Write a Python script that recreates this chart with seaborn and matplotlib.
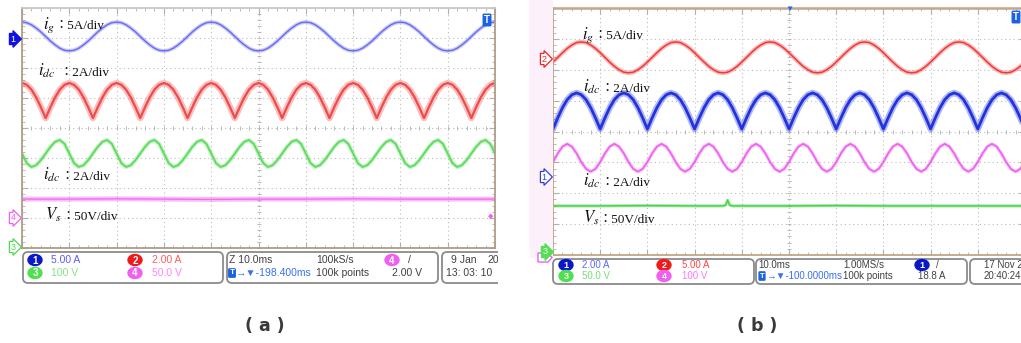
import matplotlib
matplotlib.use("Agg")
import matplotlib.pyplot as plt
import matplotlib.transforms as mtransforms
from matplotlib.patches import FancyBboxPatch, Ellipse, Rectangle, Polygon
import numpy as np
import pandas as pd
import seaborn as sns

# ---------------- data (screen divisions, time in ms) ----------------
TIME_MS = list(range(0, 101))
FLAT_TIME_A = [0, 10, 20, 30, 40, 50, 60, 70, 80, 90, 100]
FLAT_TIME_B = [0, 10, 20, 30, 36, 36.6, 37, 37.4, 38, 40, 50, 60, 70, 80, 90, 100]

# panel (a)
A_IG = [3.53, 3.51, 3.44, 3.33, 3.20, 3.05, 2.90, 2.77, 2.66, 2.59, 2.57, 2.59, 2.66, 2.77, 2.90, 3.05, 3.20, 3.33, 3.44, 3.51,
        3.53, 3.51, 3.44, 3.33, 3.20, 3.05, 2.90, 2.77, 2.66, 2.59, 2.57, 2.59, 2.66, 2.77, 2.90, 3.05, 3.20, 3.33, 3.44, 3.51,
        3.53, 3.51, 3.44, 3.33, 3.20, 3.05, 2.90, 2.77, 2.66, 2.59, 2.57, 2.59, 2.66, 2.77, 2.90, 3.05, 3.20, 3.33, 3.44, 3.51,
        3.53, 3.51, 3.44, 3.33, 3.20, 3.05, 2.90, 2.77, 2.66, 2.59, 2.57, 2.59, 2.66, 2.77, 2.90, 3.05, 3.20, 3.33, 3.44, 3.51,
        3.53, 3.51, 3.44, 3.33, 3.20, 3.05, 2.90, 2.77, 2.66, 2.59, 2.57, 2.59, 2.66, 2.77, 2.90, 3.05, 3.20, 3.33, 3.44, 3.51,
        3.53]
A_IDC = [1.50, 1.44, 1.28, 1.02, 0.69, 0.33, 0.69, 1.02, 1.28, 1.44,
         1.50, 1.44, 1.28, 1.02, 0.69, 0.33, 0.69, 1.02, 1.28, 1.44,
         1.50, 1.44, 1.28, 1.02, 0.69, 0.33, 0.69, 1.02, 1.28, 1.44,
         1.50, 1.44, 1.28, 1.02, 0.69, 0.33, 0.69, 1.02, 1.28, 1.44,
         1.50, 1.44, 1.28, 1.02, 0.69, 0.33, 0.69, 1.02, 1.28, 1.44,
         1.50, 1.44, 1.28, 1.02, 0.69, 0.33, 0.69, 1.02, 1.28, 1.44,
         1.50, 1.44, 1.28, 1.02, 0.69, 0.33, 0.69, 1.02, 1.28, 1.44,
         1.50, 1.44, 1.28, 1.02, 0.69, 0.33, 0.69, 1.02, 1.28, 1.44,
         1.50, 1.44, 1.28, 1.02, 0.69, 0.33, 0.69, 1.02, 1.28, 1.44,
         1.50, 1.44, 1.28, 1.02, 0.69, 0.33, 0.69, 1.02, 1.28, 1.44,
         1.50]
A_IDC2 = [-0.85, -1.17, -1.30, -1.24, -1.07, -0.85, -0.63, -0.46, -0.40, -0.53,
          -0.85, -1.17, -1.30, -1.24, -1.07, -0.85, -0.63, -0.46, -0.40, -0.53,
          -0.85, -1.17, -1.30, -1.24, -1.07, -0.85, -0.63, -0.46, -0.40, -0.53,
          -0.85, -1.17, -1.30, -1.24, -1.07, -0.85, -0.63, -0.46, -0.40, -0.53,
          -0.85, -1.17, -1.30, -1.24, -1.07, -0.85, -0.63, -0.46, -0.40, -0.53,
          -0.85, -1.17, -1.30, -1.24, -1.07, -0.85, -0.63, -0.46, -0.40, -0.53,
          -0.85, -1.17, -1.30, -1.24, -1.07, -0.85, -0.63, -0.46, -0.40, -0.53,
          -0.85, -1.17, -1.30, -1.24, -1.07, -0.85, -0.63, -0.46, -0.40, -0.53,
          -0.85, -1.17, -1.30, -1.24, -1.07, -0.85, -0.63, -0.46, -0.40, -0.53,
          -0.85, -1.17, -1.30, -1.24, -1.07, -0.85, -0.63, -0.46, -0.40, -0.53,
          -0.85]
A_VS = [-2.37, -2.37, -2.36, -2.37, -2.38, -2.37, -2.37, -2.36, -2.37, -2.37, -2.37]

# panel (b)
B_IG = [2.25, 2.40, 2.55, 2.69, 2.80, 2.88, 2.90, 2.88, 2.80, 2.69, 2.55, 2.40, 2.25, 2.11, 2.00, 1.92, 1.90, 1.92, 2.00, 2.11,
        2.25, 2.40, 2.55, 2.69, 2.80, 2.88, 2.90, 2.88, 2.80, 2.69, 2.55, 2.40, 2.25, 2.11, 2.00, 1.92, 1.90, 1.92, 2.00, 2.11,
        2.25, 2.40, 2.55, 2.69, 2.80, 2.88, 2.90, 2.88, 2.80, 2.69, 2.55, 2.40, 2.25, 2.11, 2.00, 1.92, 1.90, 1.92, 2.00, 2.11,
        2.25, 2.40, 2.55, 2.69, 2.80, 2.88, 2.90, 2.88, 2.80, 2.69, 2.55, 2.40, 2.25, 2.11, 2.00, 1.92, 1.90, 1.92, 2.00, 2.11,
        2.25, 2.40, 2.55, 2.69, 2.80, 2.88, 2.90, 2.88, 2.80, 2.69, 2.55, 2.40, 2.25, 2.11, 2.00, 1.92, 1.90, 1.92, 2.00, 2.11,
        2.25]
B_IDC = [0.08, 0.44, 0.77, 1.03, 1.19, 1.25, 1.19, 1.03, 0.77, 0.44,
         0.08, 0.44, 0.77, 1.03, 1.19, 1.25, 1.19, 1.03, 0.77, 0.44,
         0.08, 0.44, 0.77, 1.03, 1.19, 1.25, 1.19, 1.03, 0.77, 0.44,
         0.08, 0.44, 0.77, 1.03, 1.19, 1.25, 1.19, 1.03, 0.77, 0.44,
         0.08, 0.44, 0.77, 1.03, 1.19, 1.25, 1.19, 1.03, 0.77, 0.44,
         0.08, 0.44, 0.77, 1.03, 1.19, 1.25, 1.19, 1.03, 0.77, 0.44,
         0.08, 0.44, 0.77, 1.03, 1.19, 1.25, 1.19, 1.03, 0.77, 0.44,
         0.08, 0.44, 0.77, 1.03, 1.19, 1.25, 1.19, 1.03, 0.77, 0.44,
         0.08, 0.44, 0.77, 1.03, 1.19, 1.25, 1.19, 1.03, 0.77, 0.44,
         0.08, 0.44, 0.77, 1.03, 1.19, 1.25, 1.19, 1.03, 0.77, 0.44,
         0.08]
B_IDC2 = [-0.99, -0.71, -0.49, -0.40, -0.49, -0.71, -0.99, -1.21, -1.30, -1.21,
          -0.99, -0.71, -0.49, -0.40, -0.49, -0.71, -0.99, -1.21, -1.30, -1.21,
          -0.99, -0.71, -0.49, -0.40, -0.49, -0.71, -0.99, -1.21, -1.30, -1.21,
          -0.99, -0.71, -0.49, -0.40, -0.49, -0.71, -0.99, -1.21, -1.30, -1.21,
          -0.99, -0.71, -0.49, -0.40, -0.49, -0.71, -0.99, -1.21, -1.30, -1.21,
          -0.99, -0.71, -0.49, -0.40, -0.49, -0.71, -0.99, -1.21, -1.30, -1.21,
          -0.99, -0.71, -0.49, -0.40, -0.49, -0.71, -0.99, -1.21, -1.30, -1.21,
          -0.99, -0.71, -0.49, -0.40, -0.49, -0.71, -0.99, -1.21, -1.30, -1.21,
          -0.99, -0.71, -0.49, -0.40, -0.49, -0.71, -0.99, -1.21, -1.30, -1.21,
          -0.99, -0.71, -0.49, -0.40, -0.49, -0.71, -0.99, -1.21, -1.30, -1.21,
          -0.99]
B_VS = [-2.41, -2.41, -2.40, -2.41, -2.41, -2.38, -2.22, -2.38, -2.41, -2.41, -2.41, -2.40, -2.41, -2.41, -2.41, -2.41]

LABEL_SYMBOLS = ["$i_g$", "$i_{dc}$", "$i_{dc}$", "$V_s$"]
LABEL_SCALES = ["\uff1a5A/div", "\uff1a2A/div", "\uff1a2A/div", "\uff1a50V/div"]

STATUS_A_CH = [("1", "5.00 A"), ("2", "2.00 A"), ("3", "100 V"), ("4", "50.0 V")]
STATUS_A_MID = ["Z 10.0ms", "100kS/s", "/", "\u2192\u25bc-198.400ms", "100k points", "2.00 V"]
STATUS_A_DATE = ["9 Jan", "20", "13: 03: 10"]
STATUS_B_CH = [("1", "2.00 A"), ("2", "5.00 A"), ("3", "50.0 V"), ("4", "100 V")]
STATUS_B_MID = ["10.0ms", "1.00MS/s", "/", "\u2192\u25bc-100.0000ms", "100k points", "18.8 A"]
STATUS_B_DATE = ["17 Nov 2", "20:40:24"]
PANEL_TITLES = ["( a )", "( b )"]

# ---------------- style ----------------
sns.set_style("white")
plt.rcParams["font.family"] = ["Liberation Sans", "DejaVu Sans"]
plt.rcParams["mathtext.fontset"] = "stix"

W, H = 1021, 343
fig = plt.figure(figsize=(W / 100, H / 100), dpi=100)
fig.patch.set_facecolor("white")
PX = mtransforms.Affine2D().scale(1.0 / W, -1.0 / H).translate(0, 1) + fig.transFigure


def add_axes_px(l, t, r, b):
    return fig.add_axes([l / W, 1 - b / H, (r - l) / W, (b - t) / H])


def style_scope(ax, spine_color, top_color):
    ax.set_xlim(0, 100)
    ax.set_ylim(-4, 4)
    ax.set_xticks(np.arange(0, 101, 10))
    ax.set_yticks(np.arange(-4, 5, 1))
    ax.set_xticks(np.arange(0, 101, 2), minor=True)
    ax.set_yticks(np.arange(-4, 4.01, 0.2), minor=True)
    ax.tick_params(which="both", direction="in", top=True, right=True, bottom=True, left=True,
                   labelbottom=False, labelleft=False, color="#b0b0b0")
    ax.tick_params(which="major", length=4, width=0.8)
    ax.tick_params(which="minor", length=2.2, width=0.6)
    ax.set_axisbelow(True)
    ax.grid(True, which="major", linestyle=(0, (1, 2.8)), color="#bcbcbc", linewidth=0.8)
    ax.set_xlabel("")
    ax.set_ylabel("")
    ax.set_facecolor("white")
    for s in ax.spines.values():
        s.set_color(spine_color)
        s.set_linewidth(1.3)
    ax.spines["top"].set_color(top_color)
    ax.plot(np.arange(0, 101, 2), np.zeros(51), ls="none", marker="|", ms=3.2, mew=0.6,
            color="#b0b0b0", zorder=1)
    ax.plot(np.full(41, 50), np.arange(-4, 4.01, 0.2), ls="none", marker="_", ms=3.2, mew=0.6,
            color="#b0b0b0", zorder=1)


def draw_trace(ax, times, values, color, lw, band_lw, band_alpha):
    df = pd.DataFrame({"t": times, "v": values})
    sns.lineplot(data=df, x="t", y="v", ax=ax, color=color, linewidth=band_lw, alpha=band_alpha,
                 estimator=None, sort=False, legend=False)
    sns.lineplot(data=df, x="t", y="v", ax=ax, color=color, linewidth=lw,
                 estimator=None, sort=False, legend=False)
    ax.set_xlabel("")
    ax.set_ylabel("")


def label(x_sym, x_rest, y_base, sym, rest):
    fig.text(x_sym, y_base, sym, transform=PX, fontsize=12, ha="left", va="baseline", color="#111111")
    fig.text(x_rest, y_base, rest, transform=PX, fontsize=9.5, ha="left", va="baseline",
             family=["Liberation Serif", "Noto Sans CJK TC", "DejaVu Serif"], color="#111111")


def marker(x, y, txt, fc, ec, tc):
    fig.text(x, y, txt, transform=PX, fontsize=6.5, ha="center", va="center", color=tc,
             bbox=dict(boxstyle="rarrow,pad=0.12", fc=fc, ec=ec, lw=0.9))


def rbox(x0, y0, x1, y1):
    p = FancyBboxPatch((x0, y0), x1 - x0, y1 - y0, boxstyle="round,pad=0,rounding_size=5",
                       transform=PX, fc="white", ec="#8a8a8a", lw=1.3, zorder=2)
    fig.patches.append(p)


def badge(x, y, num, color, fs):
    fig.patches.append(Ellipse((x, y), 14, 11, transform=PX, fc=color, ec=color, zorder=3))
    fig.text(x, y + 0.5, num, transform=PX, fontsize=fs, ha="center", va="center", color="white",
             weight="bold", zorder=4)


def tbadge(x, y, fs):
    fig.text(x, y, "T", transform=PX, fontsize=fs, ha="center", va="center", color="white", weight="bold",
             bbox=dict(boxstyle="round,pad=0.08", fc="#1a62e0", ec="#1a62e0"), zorder=4)


CH_COL = {"1": "#0a18c8", "2": "#f01a1a", "3": "#4fe04f", "4": "#f060f0"}

# ---------------- panel (a) ----------------
axa = add_axes_px(22, 8, 495, 248)
style_scope(axa, "#b09c88", "#c8c8c8")
draw_trace(axa, TIME_MS, A_IG, "#6a6af2", 1.0, 2.8, 0.35)
draw_trace(axa, TIME_MS, A_IDC, "#f04a4a", 1.6, 4.6, 0.35)
draw_trace(axa, TIME_MS, A_IDC2, "#5cdc5c", 1.3, 3.0, 0.35)
draw_trace(axa, FLAT_TIME_A, A_VS, "#f070f0", 1.0, 3.6, 0.45)

label(43, 54, 29, LABEL_SYMBOLS[0], LABEL_SCALES[0])
label(38, 59, 76, LABEL_SYMBOLS[1], LABEL_SCALES[1])
label(43, 60, 180, LABEL_SYMBOLS[2], LABEL_SCALES[2])
label(45, 61, 220, LABEL_SYMBOLS[3], LABEL_SCALES[3])

marker(13, 39, "1", "#1010e0", "#1010e0", "white")
marker(13, 218, "4", "white", "#f060f0", "#f060f0")
marker(13, 247, "3", "white", "#50d850", "#50d850")
tbadge(487, 20, 7)
fig.text(491, 217, "\u25c6", transform=PX, fontsize=5, ha="center", va="center", color="#f060f0")

# status bar (a)
rbox(23, 252, 223, 283)
rbox(227, 252, 438, 283)
rbox(442, 252, 520, 283)
ra1, ra2 = 260, 273
for (num, txt), (bx, by) in zip(STATUS_A_CH, [(35, ra1), (135, ra1), (35, ra2), (135, ra2)]):
    badge(bx, by, num, CH_COL[num], 7)
cols_a = {"1": "#5a5aff", "2": "#ff5a5a", "3": "#84e484", "4": "#ff84ff"}
for (num, txt), (tx, ty) in zip(STATUS_A_CH, [(51, ra1), (152, ra1), (51, ra2), (152, ra2)]):
    fig.text(tx, ty, txt, transform=PX, fontsize=7.5, ha="left", va="center", color=cols_a[num], zorder=4)
fig.text(229, ra1, STATUS_A_MID[0], transform=PX, fontsize=7.5, va="center", color="#404040", zorder=4)
fig.text(316, ra1, STATUS_A_MID[1], transform=PX, fontsize=7.5, va="center", color="#404040", zorder=4)
badge(392, ra1, "4", CH_COL["4"], 7)
fig.text(408, ra1, STATUS_A_MID[2], transform=PX, fontsize=7.5, va="center", color="#404040", zorder=4)
tbadge(232, ra2, 6)
fig.text(236, ra2, STATUS_A_MID[3], transform=PX, fontsize=7.5, va="center", color="#3a6ef0", zorder=4)
fig.text(316, ra2, STATUS_A_MID[4], transform=PX, fontsize=7.5, va="center", color="#404040", zorder=4)
fig.text(392, ra2, STATUS_A_MID[5], transform=PX, fontsize=7.5, va="center", color="#404040", zorder=4)
fig.text(451, ra1, STATUS_A_DATE[0], transform=PX, fontsize=7.5, va="center", color="#404040", zorder=4)
fig.text(487, ra1, STATUS_A_DATE[1], transform=PX, fontsize=7.5, va="center", color="#404040", zorder=4)
fig.text(446, ra2, STATUS_A_DATE[2], transform=PX, fontsize=7.5, va="center", color="#404040", zorder=4)
fig.patches.append(Rectangle((497.5, 248), 32, 45, transform=PX, fc="white", ec="none", zorder=6))

# ---------------- panel (b) ----------------
fig.patches.append(Rectangle((529, 0), 24, 258, transform=PX, fc="#fcf1fb", ec="none", zorder=0))
axb = add_axes_px(553, 8, 1025, 255)
style_scope(axb, "#c4a68a", "#c4a68a")
axb.spines["top"].set_linewidth(1.8)
draw_trace(axb, TIME_MS, B_IG, "#f03a3a", 1.1, 3.2, 0.35)
draw_trace(axb, TIME_MS, B_IDC, "#2233dd", 2.0, 4.6, 0.35)
draw_trace(axb, TIME_MS, B_IDC2, "#f060f0", 1.2, 2.6, 0.35)
draw_trace(axb, FLAT_TIME_B, B_VS, "#44d044", 1.0, 2.4, 0.4)

label(582, 593, 39, LABEL_SYMBOLS[0], LABEL_SCALES[0])
label(583, 600, 92, LABEL_SYMBOLS[1], LABEL_SCALES[1])
label(583, 600, 186, LABEL_SYMBOLS[2], LABEL_SCALES[2])
label(583, 598, 223, LABEL_SYMBOLS[3], LABEL_SCALES[3])

marker(544, 59, "2", "white", "#f02020", "#f02020")
marker(544, 177, "1", "white", "#3040e0", "#3040e0")
fig.patches.append(Polygon([(538, 253), (548, 253), (552, 257.5), (548, 262), (538, 262)], closed=True,
                           transform=PX, fc="white", ec="#f060f0", lw=1.0, zorder=1))
marker(545, 252, "3", "#50e050", "#50e050", "white")
tbadge(1016, 17, 7)
fig.text(789, 9, "\u25bc", transform=PX, fontsize=6, ha="center", va="center", color="#2a6ae0")

# status bar (b)
rbox(553, 259, 754, 284)
rbox(756, 259, 967, 284)
rbox(970, 259, 1060, 284)
rb1, rb2 = 265, 276
for (num, txt), (bx, by) in zip(STATUS_B_CH, [(566, rb1), (664, rb1), (566, rb2), (664, rb2)]):
    badge(bx, by, num, CH_COL[num], 6.5)
cols_b = {"1": "#5a6aff", "2": "#ff4646", "3": "#74e074", "4": "#ff74ff"}
for (num, txt), (tx, ty) in zip(STATUS_B_CH, [(582, rb1), (682, rb1), (582, rb2), (682, rb2)]):
    fig.text(tx, ty, txt, transform=PX, fontsize=7, ha="left", va="center", color=cols_b[num], zorder=4)
fig.text(758, rb1, STATUS_B_MID[0], transform=PX, fontsize=7, va="center", color="#404040", zorder=4)
fig.text(843, rb1, STATUS_B_MID[1], transform=PX, fontsize=7, va="center", color="#404040", zorder=4)
badge(922, rb1, "1", CH_COL["1"], 6.5)
fig.text(936, rb1, STATUS_B_MID[2], transform=PX, fontsize=7, va="center", color="#404040", zorder=4)
tbadge(762, rb2, 5.5)
fig.text(766, rb2, STATUS_B_MID[3], transform=PX, fontsize=7, va="center", color="#3a6ef0", zorder=4)
fig.text(843, rb2, STATUS_B_MID[4], transform=PX, fontsize=7, va="center", color="#404040", zorder=4)
fig.text(918, rb2, STATUS_B_MID[5], transform=PX, fontsize=7, va="center", color="#404040", zorder=4)
fig.text(984, rb1, STATUS_B_DATE[0], transform=PX, fontsize=7, va="center", color="#404040", zorder=4)
fig.text(984, rb2, STATUS_B_DATE[1], transform=PX, fontsize=7, va="center", color="#404040", zorder=4)

# panel titles
fig.text(265, 326, PANEL_TITLES[0], transform=PX, fontsize=12.5, ha="center", va="center",
         family=["DejaVu Sans"], weight="bold", color="#3a3a3a")
fig.text(757, 326, PANEL_TITLES[1], transform=PX, fontsize=12.5, ha="center", va="center",
         family=["DejaVu Sans"], weight="bold", color="#3a3a3a")

fig.savefig("out.png", dpi=100, facecolor="white")
